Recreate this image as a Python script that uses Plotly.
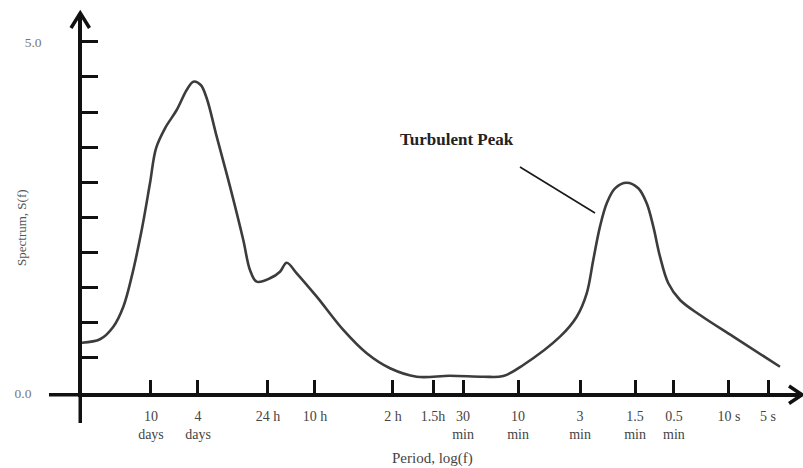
import plotly.graph_objects as go

# Schematic energy spectrum of wind speed (van der Hoven style)
# Position along the period axis (schematic log scale, arbitrary units)
period_pos = [0.0, 2.5, 4.35, 5.74, 6.90, 8.29, 9.44, 10.28, 11.53, 13.15,
              14.54, 15.46, 16.49, 17.32, 18.71, 20.56, 22.40, 23.33, 24.26,
              26.11, 27.50, 28.43, 29.82, 32.60, 36.29, 39.54, 42.78, 46.49,
              51.11, 55.74, 58.51, 61.29, 66.39, 68.71, 70.10, 71.01,
              71.94, 72.88, 74.03, 75.65, 77.26, 78.43, 79.35, 80.28, 81.43,
              83.06, 85.83, 90.46, 96.94]
spectrum = [0.716, 0.765, 0.944, 1.229, 1.656, 2.32, 2.985, 3.484, 3.769,
            4.029, 4.314, 4.432, 4.385, 4.196, 3.649, 2.937, 2.178, 1.751,
            1.585, 1.633, 1.727, 1.855, 1.704, 1.371, 0.897, 0.565, 0.352,
            0.232, 0.246, 0.232, 0.242, 0.399, 0.802, 1.086, 1.419,
            1.894, 2.368, 2.701, 2.914, 2.994, 2.914, 2.701, 2.368, 1.941,
            1.562, 1.324, 1.110, 0.802, 0.374]

# Period tick marks
tick_pos = [9.58, 16.11, 25.83, 32.36, 43.19, 48.75, 52.92, 60.56, 69.17,
            76.81, 82.22, 89.86, 95.28]
tick_labels = ["10<br>days", "4<br>days", "24 h", "10 h", "2 h", "1.5h",
               "30<br>min", "10<br>min", "3<br>min", "1.5<br>min",
               "0.5<br>min", "10 s", "5 s"]

# Spectrum ticks every 0.5, labelled only at the ends
s_ticks = [0.0, 0.5, 1.0, 1.5, 2.0, 2.5, 3.0, 3.5, 4.0, 4.5, 5.0]
s_labels = ["0.0\u00a0\u00a0\u00a0"] + [""] * 9 + ["5.0"]

W, H = 803, 468
ML, MR, MT, MB = 82, 1, 13, 75
PW, PH = W - ML - MR, H - MT - MB


def px(x):
    return (x - ML) / PW


def py(y):
    return (H - MB - y) / PH


SERIF = "Liberation Serif, Times New Roman, serif"

fig = go.Figure()
fig.add_trace(go.Scatter(
    x=period_pos, y=spectrum, mode="lines",
    line=dict(color="#3c3c3c", width=2.6, shape="spline", smoothing=1.0),
    hoverinfo="skip", showlegend=False,
))

axis_col = "#111111"
shapes = [
    # x axis extension to the left of the origin
    dict(type="line", xref="paper", yref="paper",
         x0=px(49), x1=px(82), y0=py(394.75), y1=py(394.75),
         line=dict(color=axis_col, width=3.5)),
    # y axis extension below the origin
    dict(type="line", xref="paper", yref="paper",
         x0=px(80.25), x1=px(80.25), y0=py(393), y1=py(423),
         line=dict(color=axis_col, width=3.5)),
    # arrowhead on the y axis
    dict(type="path", xref="paper", yref="paper",
         path=f"M{px(71)},{py(28)} L{px(80.25)},{py(13)} L{px(89.5)},{py(28)}",
         line=dict(color=axis_col, width=3.5)),
    # arrowhead on the x axis
    dict(type="path", xref="paper", yref="paper",
         path=f"M{px(789)},{py(386)} L{px(802)},{py(394.75)} L{px(789)},{py(403.5)}",
         line=dict(color=axis_col, width=3.5)),
    # leader line for the turbulent peak label
    dict(type="line", xref="paper", yref="paper",
         x0=px(520), y0=py(167), x1=px(595), y1=py(213),
         line=dict(color="#1a1a1a", width=1.6)),
]

annotations = [
    dict(text="Turbulent Peak", xref="paper", yref="paper",
         x=px(457), y=py(139), xanchor="center", yanchor="middle",
         showarrow=False,
         font=dict(family=SERIF, size=17, color="#222222", weight="bold")),
    dict(text="Period, log(f)", xref="paper", yref="paper",
         x=px(432), y=py(458), xanchor="center", yanchor="middle",
         showarrow=False, font=dict(family=SERIF, size=15, color="#444444")),
    dict(text="Spectrum, S(f)", xref="paper", yref="paper",
         x=px(21), y=py(228), xanchor="center", yanchor="middle",
         textangle=-90, showarrow=False,
         font=dict(family=SERIF, size=13, color="#555555")),
]

fig.update_layout(
    width=W, height=H,
    margin=dict(l=ML, r=MR, t=MT, b=MB, pad=0),
    paper_bgcolor="white", plot_bgcolor="white",
    shapes=shapes, annotations=annotations,
    xaxis=dict(
        range=[0, 100], showgrid=False, zeroline=False,
        showline=True, linecolor=axis_col, linewidth=3.5,
        ticks="inside", ticklen=13, tickwidth=2.5, tickcolor=axis_col,
        tickvals=tick_pos, ticktext=tick_labels, ticklabelstandoff=7,
        tickfont=dict(family=SERIF, size=14, color="#444444"),
    ),
    yaxis=dict(
        range=[0, 5.41], showgrid=False, zeroline=False,
        showline=True, linecolor=axis_col, linewidth=3.5,
        ticks="inside", ticklen=16, tickwidth=2.5, tickcolor=axis_col,
        tickvals=s_ticks, ticktext=s_labels, ticklabelstandoff=34,
        tickfont=dict(family=SERIF, size=13.5, color="#777777"),
    ),
)

fig.write_html("out.html")
